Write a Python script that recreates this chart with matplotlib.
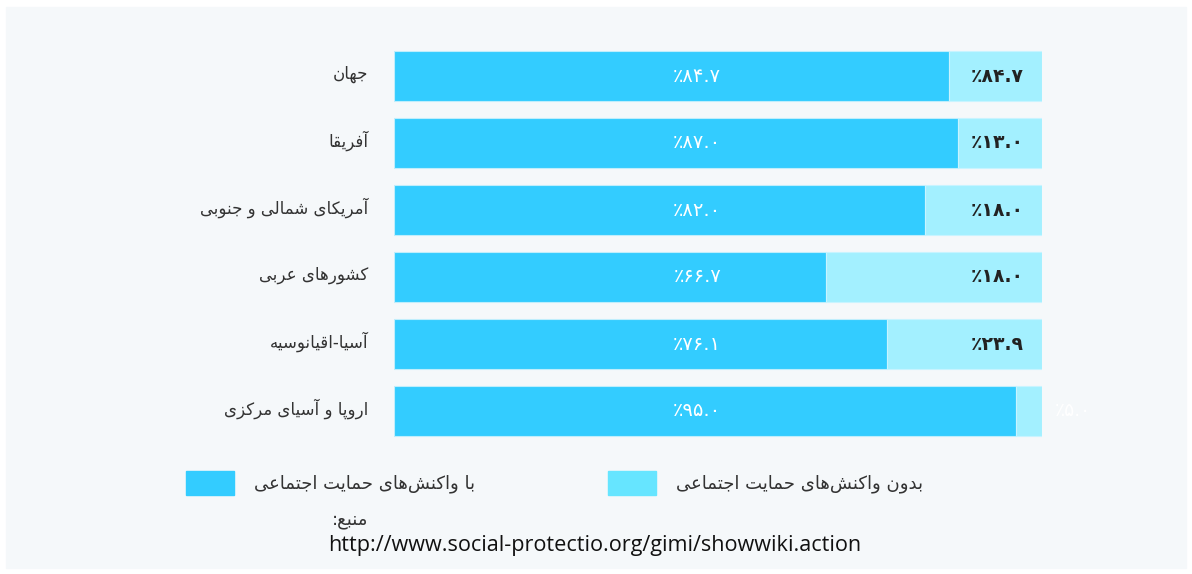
import numpy as np
import matplotlib.pyplot as plt
from matplotlib.patches import Rectangle

# --- data ---
regions = ['جهان', 'آفریقا', 'آمریکای شمالی و جنوبی', 'کشورهای عربی',
           'آسیا-اقیانوسیه', 'اروپا و آسیای مرکزی']
with_sp = [85.6, 87.0, 82.0, 66.7, 76.1, 96.0]        # bar widths (%)
with_txt = [84.7, 87.0, 82.0, 66.7, 76.1, 95.0]       # printed labels
without_txt = [84.7, 13.0, 18.0, 18.0, 23.9, 5.0]     # printed labels (as in source)
legend_names = ['با واکنش‌های حمایت اجتماعی', 'بدون واکنش‌های حمایت اجتماعی']
source_title = 'منبع:'
source_url = 'http://www.social-protectio.org/gimi/showwiki.action'

DARK = '#33ccff'
LIGHT = '#a3f0ff'
LEG_LIGHT = '#66e5ff'
TXT = '#333333'

# tiny arabic/persian shaper (matplotlib has no complex text layout)
FORMS = {
    'ا': (0xFE8D, 0xFE8E), 'آ': (0xFE81, 0xFE82), 'د': (0xFEA9, 0xFEAA),
    'ر': (0xFEAD, 0xFEAE), 'ز': (0xFEAF, 0xFEB0), 'و': (0xFEED, 0xFEEE),
    'ب': (0xFE8F, 0xFE90, 0xFE91, 0xFE92), 'پ': (0xFB56, 0xFB57, 0xFB58, 0xFB59),
    'ت': (0xFE95, 0xFE96, 0xFE97, 0xFE98), 'ج': (0xFE9D, 0xFE9E, 0xFE9F, 0xFEA0),
    'ح': (0xFEA1, 0xFEA2, 0xFEA3, 0xFEA4), 'س': (0xFEB1, 0xFEB2, 0xFEB3, 0xFEB4),
    'ش': (0xFEB5, 0xFEB6, 0xFEB7, 0xFEB8), 'ع': (0xFEC9, 0xFECA, 0xFECB, 0xFECC),
    'ف': (0xFED1, 0xFED2, 0xFED3, 0xFED4), 'ق': (0xFED5, 0xFED6, 0xFED7, 0xFED8),
    'ک': (0xFB8E, 0xFB8F, 0xFB90, 0xFB91), 'ل': (0xFEDD, 0xFEDE, 0xFEDF, 0xFEE0),
    'م': (0xFEE1, 0xFEE2, 0xFEE3, 0xFEE4), 'ن': (0xFEE5, 0xFEE6, 0xFEE7, 0xFEE8),
    'ه': (0xFEE9, 0xFEEA, 0xFEEB, 0xFEEC), 'ی': (0xFEEF, 0xFEF0, 0xFEF3, 0xFEF4),
}


def shape(s):
    out = []
    for i, c in enumerate(s):
        if c not in FORMS:
            if c != '\u200c':
                out.append(c)
            continue
        f = FORMS[c]
        prev = s[i - 1] if i > 0 else ''
        nxt = s[i + 1] if i + 1 < len(s) else ''
        jp = prev in FORMS and len(FORMS[prev]) == 4
        jn = len(f) == 4 and nxt in FORMS
        if jp and jn:
            g = f[3]
        elif jp:
            g = f[1]
        elif jn:
            g = f[2]
        else:
            g = f[0]
        out.append(chr(g))
    return ''.join(reversed(out))


def fa(v):
    return '٪' + f'{v:.1f}'.translate(str.maketrans('0123456789', '۰۱۲۳۴۵۶۷۸۹'))


plt.rcParams['font.family'] = ['DejaVu Sans']
W, H = 1192, 574
fig = plt.figure(figsize=(W / 100, H / 100), dpi=100, facecolor='white')


def fx(x):
    return x / W


def fy(y):
    return 1 - y / H


fig.add_artist(Rectangle((fx(6), fy(568)), fx(1186) - fx(6), fy(7) - fy(568),
                         transform=fig.transFigure, color='#f5f8fa', zorder=0))

ax = fig.add_axes([fx(394), fy(444.5), fx(1042) - fx(394), fy(42.5) - fy(444.5)])
ax.set_facecolor('none')
y = np.arange(len(regions))
without_sp = [100 - v for v in with_sp]
ax.barh(y, with_sp, height=0.746, color=DARK, edgecolor='#bfeefc', linewidth=0.8)
ax.barh(y, without_sp, left=with_sp, height=0.746, color=LIGHT, edgecolor='#c8f4ff', linewidth=0.8)
ax.set_xlim(0, 100)
ax.set_ylim(len(regions) - 0.5, -0.5)
ax.axis('off')

for i in range(len(regions)):
    ax.text(-4, y[i] - 0.03, shape(regions[i]), ha='right', va='center', fontsize=12, color=TXT)
    ax.text(46.8, y[i], fa(with_txt[i]), ha='center', va='center', fontsize=14,
            color='white')
    if without_sp[i] < 8:
        ax.text(102, y[i], fa(without_txt[i]), ha='left', va='center', fontsize=13.5,
                color='white')
    else:
        ax.text(97.2, y[i], fa(without_txt[i]), ha='right', va='center', fontsize=13.5,
                fontweight='bold', color='#222222')

# legend
for (x0, col, name) in [(186, DARK, legend_names[0]), (608, LEG_LIGHT, legend_names[1])]:
    fig.add_artist(Rectangle((fx(x0), fy(495)), fx(48), fy(471) - fy(495),
                             transform=fig.transFigure, color=col))
    fig.text(fx(x0 + 68), fy(484), shape(name), ha='left', va='center', fontsize=13, color=TXT)

fig.text(fx(368), fy(520), shape(source_title), ha='right', va='center', fontsize=13, color=TXT)
fig.text(fx(328), fy(545), source_url, ha='left', va='center', fontsize=15.6,
         family='Open Sans', color='#111111')

fig.savefig('out.png', dpi=100, facecolor='white')
